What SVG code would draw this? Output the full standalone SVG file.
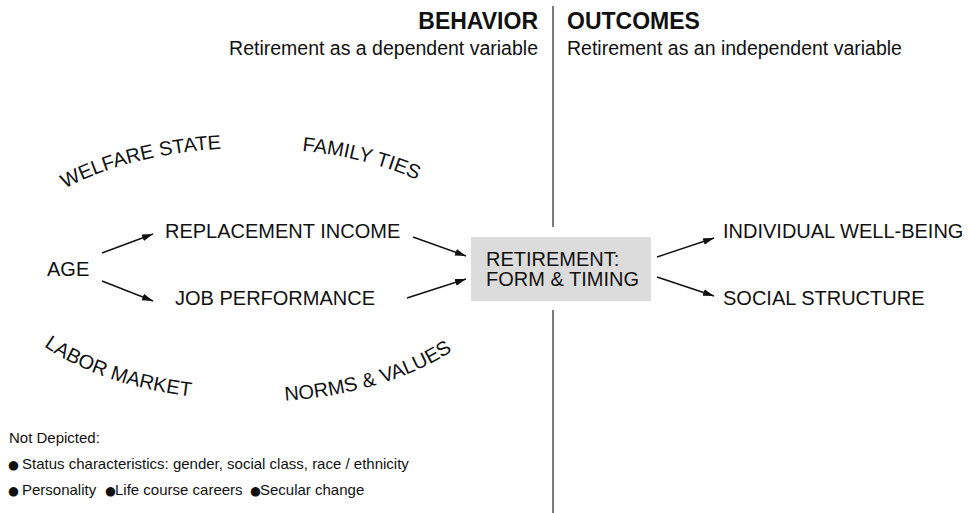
<svg xmlns="http://www.w3.org/2000/svg" xmlns:xlink="http://www.w3.org/1999/xlink" width="968" height="513" viewBox="0 0 968 513">
<style>
text{font-family:"Liberation Sans",Arial,sans-serif;fill:#111;}
.hd{font-size:23px;font-weight:bold;}
.sub{font-size:19.5px;}
.lbl{font-size:20px;}
.arc{font-size:20px;}
.note{font-size:15px;}
.bul{font-size:12.5px;font-family:"DejaVu Sans",sans-serif;}
.conn line{stroke:#111;stroke-width:1.4;marker-end:url(#ah);}
.div{stroke:#333;stroke-width:1.3;}
</style>
<defs>
<marker id="ah" markerUnits="userSpaceOnUse" markerWidth="12" markerHeight="8" refX="11" refY="3.5" orient="auto">
<path d="M0,0 L11,3.5 L0,7 z" fill="#111"/>
</marker>
<path id="pWelfare" d="M65,188.7 A252,127 0 0 1 502,275"/>
<path id="pFamily" d="M302,150.7 A252,127 0 0 1 502,275"/>
<path id="pLabor" d="M44,346 A252,127 0 0 0 502,275"/>
<path id="pNorms" d="M285,400.8 A252,127 0 0 0 502,275"/>
</defs>
<rect width="968" height="513" fill="#fff"/>
<g id="divider">
<line class="div" x1="553" y1="6" x2="553" y2="227"/>
<line class="div" x1="553" y1="310" x2="553" y2="513"/>
</g>
<g id="header">
<text class="hd" x="538" y="29" text-anchor="end">BEHAVIOR</text>
<text class="sub" x="538" y="55" text-anchor="end">Retirement as a dependent variable</text>
<text class="hd" x="567" y="29">OUTCOMES</text>
<text class="sub" x="567" y="55">Retirement as an independent variable</text>
</g>
<g id="context">
<text class="arc"><textPath xlink:href="#pWelfare">WELFARE STATE</textPath></text>
<text class="arc"><textPath xlink:href="#pFamily">FAMILY TIES</textPath></text>
<text class="arc"><textPath xlink:href="#pLabor">LABOR MARKET</textPath></text>
<text class="arc"><textPath xlink:href="#pNorms">NORMS &amp; VALUES</textPath></text>
</g>
<g id="age"><text class="lbl" x="47" y="276">AGE</text></g>
<g id="replacement-income"><text class="lbl" x="165" y="238">REPLACEMENT INCOME</text></g>
<g id="job-performance"><text class="lbl" x="175" y="305">JOB PERFORMANCE</text></g>
<g id="retirement">
<rect x="471" y="237" width="180" height="64" fill="#dcdcdc"/>
<text class="lbl" x="486" y="266">RETIREMENT:</text>
<text class="lbl" x="486" y="286">FORM &amp; TIMING</text>
</g>
<g id="well-being"><text class="lbl" x="723" y="238">INDIVIDUAL WELL-BEING</text></g>
<g id="social-structure"><text class="lbl" x="723" y="305">SOCIAL STRUCTURE</text></g>
<g id="connectors" class="conn">
<line x1="102" y1="253" x2="153" y2="234"/>
<line x1="102" y1="281" x2="153" y2="301"/>
<line x1="413" y1="237" x2="466" y2="256"/>
<line x1="407" y1="298" x2="466" y2="279"/>
<line x1="657" y1="257" x2="714" y2="238"/>
<line x1="657" y1="277" x2="714" y2="296"/>
</g>
<g id="not-depicted">
<text class="note" x="9" y="443">Not Depicted:</text>
<text class="note" y="469"><tspan class="bul" x="8">●</tspan><tspan x="22">Status characteristics: gender, social class, race / ethnicity</tspan></text>
<text class="note" y="495"><tspan class="bul" x="8">●</tspan><tspan x="22">Personality</tspan><tspan class="bul" x="105">●</tspan><tspan x="115">Life course careers</tspan><tspan class="bul" x="250">●</tspan><tspan x="260">Secular change</tspan></text>
</g>
</svg>
